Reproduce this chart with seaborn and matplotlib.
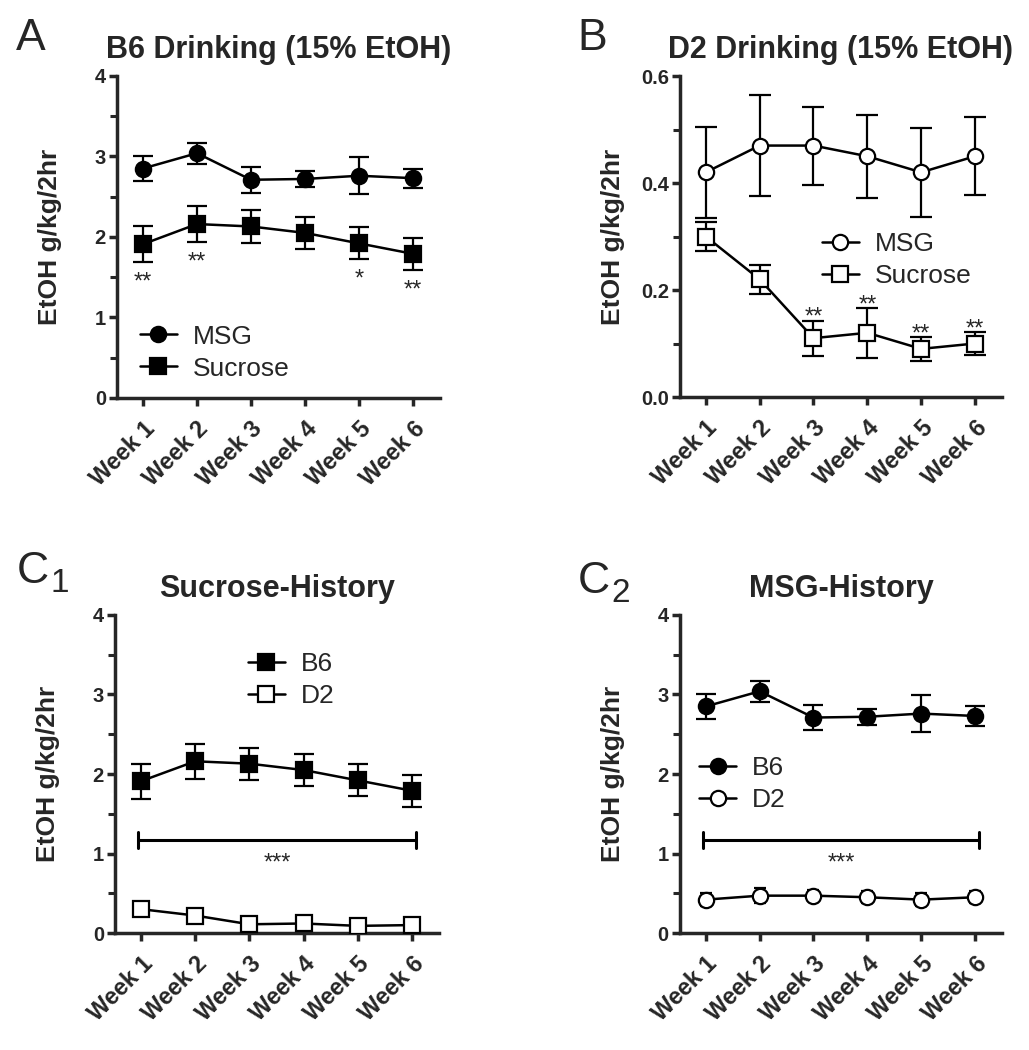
import numpy as np
import pandas as pd
import seaborn as sns
import matplotlib.pyplot as plt
from matplotlib.lines import Line2D
from matplotlib.ticker import MultipleLocator, FormatStrFormatter

weeks = ['Week 1', 'Week 2', 'Week 3', 'Week 4', 'Week 5', 'Week 6']

# EtOH intake, g/kg/2hr (mean and sem)
b6_msg_mean = [2.85, 3.04, 2.71, 2.72, 2.76, 2.73]
b6_msg_sem = [0.16, 0.13, 0.16, 0.10, 0.23, 0.12]
b6_suc_mean = [1.91, 2.16, 2.13, 2.05, 1.92, 1.79]
b6_suc_sem = [0.22, 0.22, 0.20, 0.20, 0.20, 0.20]

d2_msg_mean = [0.42, 0.47, 0.47, 0.45, 0.42, 0.45]
d2_msg_sem = [0.085, 0.095, 0.073, 0.078, 0.083, 0.073]
d2_suc_mean = [0.30, 0.22, 0.11, 0.12, 0.09, 0.10]
d2_suc_sem = [0.028, 0.027, 0.033, 0.047, 0.022, 0.021]

a_stars = ['**', '**', '', '', '*', '**']
b_stars = ['', '', '**', '**', '**', '**']
c_stars = '***'

sns.set_style('ticks')
plt.rcParams['font.family'] = ['Liberation Sans', 'DejaVu Sans']
plt.rcParams['font.weight'] = 'bold'
plt.rcParams['axes.labelweight'] = 'bold'
plt.rcParams['axes.titleweight'] = 'bold'


def draw_series(ax, mean, sem, marker, filled, cap=7):
    df = pd.DataFrame({'x': np.arange(len(weeks)), 'y': mean})
    ax.errorbar(df['x'], df['y'], yerr=sem, fmt='none', ecolor='black',
                elinewidth=1.6, capsize=cap, capthick=1.6, zorder=2)
    sns.lineplot(data=df, x='x', y='y', ax=ax, color='black', lw=1.8,
                 errorbar=None, marker=marker, markersize=11,
                 markerfacecolor='black' if filled else 'white',
                 markeredgecolor='black', markeredgewidth=1.6, zorder=3)


def style_axes(ax, ymax, major, minor, fmt, title):
    ax.set_xlim(-0.48, 5.5)
    ax.set_ylim(0, ymax)
    ax.set_xticks(range(len(weeks)))
    ax.set_xticklabels(weeks, rotation=45, ha='right', va='top',
                       rotation_mode='anchor', fontsize=17)
    ax.yaxis.set_major_locator(MultipleLocator(major))
    ax.yaxis.set_minor_locator(MultipleLocator(minor))
    ax.yaxis.set_major_formatter(FormatStrFormatter(fmt))
    sns.despine(ax=ax)
    for s in ['left', 'bottom']:
        ax.spines[s].set_linewidth(2.5)
    ax.tick_params(which='both', width=2.5, length=6, direction='out')
    ax.tick_params(axis='y', which='minor', length=5, width=2.2)
    ax.tick_params(axis='y', labelsize=14.5, pad=2)
    ax.tick_params(axis='x', pad=8)
    ax.set_xlabel('')
    ax.set_ylabel('EtOH g/kg/2hr', fontsize=19)
    ax.yaxis.set_label_coords(-0.17, 0.5)
    ax.set_title(title, fontsize=22, pad=13)


def add_legend(ax, labels, markers, filled, anchor):
    handles = [Line2D([], [], color='black', lw=1.8, marker=m, ms=11,
                      mfc='black' if f else 'white', mec='black', mew=1.6)
               for m, f in zip(markers, filled)]
    ax.legend(handles, labels, loc='center left', bbox_to_anchor=anchor,
              frameon=False, prop={'size': 19, 'weight': 'normal'},
              handlelength=1.4, handletextpad=0.6, labelspacing=0.3,
              borderpad=0, borderaxespad=0)


def add_bracket(ax, y):
    x0, x1 = -0.05, len(weeks) - 1 + 0.08
    ax.plot([x0, x1], [y, y], color='black', lw=2.2)
    ax.plot([x0, x0], [y - 0.1, y + 0.1], color='black', lw=2.2)
    ax.plot([x1, x1], [y - 0.1, y + 0.1], color='black', lw=2.2)
    ax.annotate(c_stars, ((x0 + x1) / 2, y), xytext=(0, -21),
                textcoords='offset points', ha='center', va='baseline',
                fontsize=17, fontweight='normal')


fig = plt.figure(figsize=(10.29, 10.5), dpi=100)
ax_a = fig.add_axes([0.1137, 0.6210, 0.3139, 0.3067])
ax_b = fig.add_axes([0.6608, 0.6219, 0.3129, 0.3057])
ax_c1 = fig.add_axes([0.1118, 0.1114, 0.3149, 0.3029])
ax_c2 = fig.add_axes([0.6608, 0.1114, 0.3129, 0.3029])

# A: B6 drinking
draw_series(ax_a, b6_msg_mean, b6_msg_sem, 'o', True)
draw_series(ax_a, b6_suc_mean, b6_suc_sem, 's', True)
for i, s in enumerate(a_stars):
    if s:
        ax_a.annotate(s, (i, b6_suc_mean[i] - b6_suc_sem[i]), xytext=(0, -19),
                      textcoords='offset points', ha='center', va='baseline',
                      fontsize=17, fontweight='normal')
style_axes(ax_a, 4, 1, 0.5, '%d', 'B6 Drinking (15% EtOH)')
add_legend(ax_a, ['MSG', 'Sucrose'], ['o', 's'], [True, True], (0.07, 0.141))

# B: D2 drinking
draw_series(ax_b, d2_msg_mean, d2_msg_sem, 'o', False, cap=8)
draw_series(ax_b, d2_suc_mean, d2_suc_sem, 's', False, cap=8)
for i, s in enumerate(b_stars):
    if s:
        ax_b.annotate(s, (i, d2_suc_mean[i] + d2_suc_sem[i]), xytext=(0, -2.5),
                      textcoords='offset points', ha='center', va='baseline',
                      fontsize=17, fontweight='normal')
style_axes(ax_b, 0.6, 0.2, 0.1, '%.1f', 'D2 Drinking (15% EtOH)')
add_legend(ax_b, ['MSG', 'Sucrose'], ['o', 's'], [False, False], (0.44, 0.427))

# C1: sucrose history
draw_series(ax_c1, b6_suc_mean, b6_suc_sem, 's', True)
draw_series(ax_c1, d2_suc_mean, d2_suc_sem, 's', False, cap=4.5)
add_bracket(ax_c1, 1.17)
style_axes(ax_c1, 4, 1, 0.5, '%d', 'Sucrose-History')
add_legend(ax_c1, ['B6', 'D2'], ['s', 's'], [True, False], (0.41, 0.795))

# C2: MSG history
draw_series(ax_c2, b6_msg_mean, b6_msg_sem, 'o', True)
draw_series(ax_c2, d2_msg_mean, d2_msg_sem, 'o', False, cap=4.5)
add_bracket(ax_c2, 1.17)
style_axes(ax_c2, 4, 1, 0.5, '%d', 'MSG-History')
add_legend(ax_c2, ['B6', 'D2'], ['o', 'o'], [True, False], (0.06, 0.469))

# panel letters
fig.text(0.015, 0.952, 'A', fontsize=32, fontweight='normal')
fig.text(0.561, 0.952, 'B', fontsize=32, fontweight='normal')
fig.text(0.0165, 0.4448, 'C', fontsize=32, fontweight='normal')
fig.text(0.0486, 0.436, '1', fontsize=24, fontweight='normal')
fig.text(0.561, 0.435, 'C', fontsize=32, fontweight='normal')
fig.text(0.594, 0.427, '2', fontsize=24, fontweight='normal')

fig.savefig('out.png', dpi=100)
